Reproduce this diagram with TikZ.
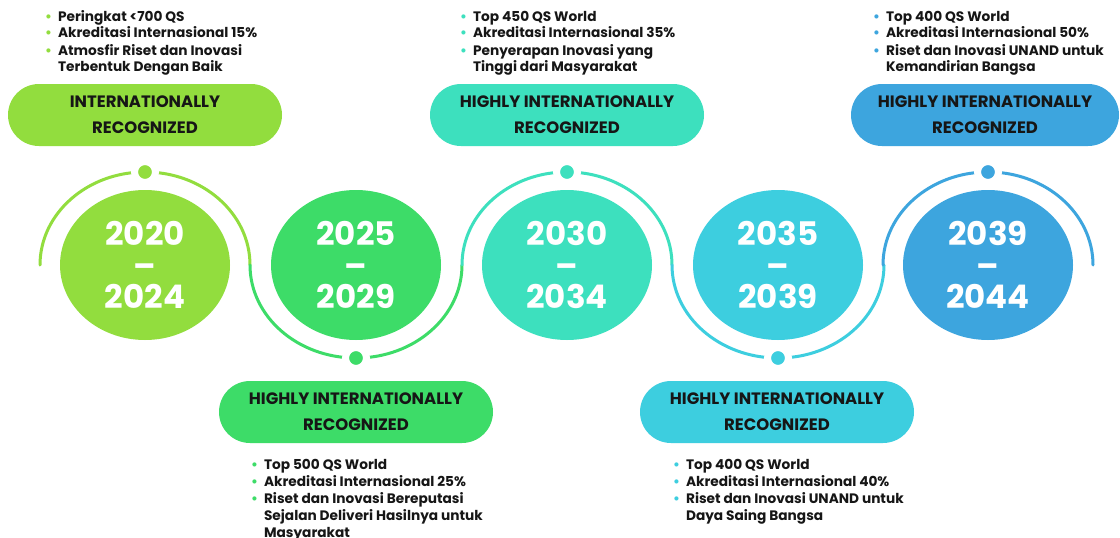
\documentclass[tikz,border=0pt]{standalone}
\usepackage{fontspec}
\setmainfont{Poppins}
\usetikzlibrary{shapes.geometric}
\definecolor{cA}{HTML}{92DD3E}
\definecolor{cB}{HTML}{3DDC68}
\definecolor{cC}{HTML}{3DE0BE}
\definecolor{cD}{HTML}{3DCEDF}
\definecolor{cE}{HTML}{3DA5DE}
\definecolor{ink}{HTML}{161616}
\newcommand{\mybul}[1]{{\color{#1}\textbullet}}
\tikzset{
  yearc/.style={ellipse, minimum width=170pt, minimum height=150pt, inner sep=0pt, fill=#1, text=white,
    font=\fontsize{32.5}{31.5}\selectfont\bfseries, align=center},
  pill/.style={rectangle, rounded corners=31pt, minimum width=274pt, minimum height=62pt, inner sep=0pt,
    fill=#1, text=ink, font=\fontsize{16.5}{26}\selectfont\bfseries, align=center},
  dotn/.style={circle, minimum size=21pt, inner sep=0pt, fill=#1, draw=white, line width=7pt},
  ring/.style={draw=#1, line width=3pt, line cap=round},
  blist/.style={anchor=base west, inner sep=0pt, font=\fontsize{13.7}{17}\selectfont\bfseries, text=ink}
}
\begin{document}
\begin{tikzpicture}[x=1pt,y=-1pt]
\useasboundingbox[fill=white] (0,0) rectangle (1120,538);
% year circles
\node[yearc=cA] (y1) at (145,265) {2020\\–\\2024};
\node[yearc=cB] (y2) at (356,265) {2025\\–\\2029};
\node[yearc=cC] (y3) at (567,265) {2030\\–\\2034};
\node[yearc=cD] (y4) at (778,265) {2035\\–\\2039};
\node[yearc=cE] (y5) at (988,265) {2039\\–\\2044};
% rings (wave)
\draw[ring=cA] (y1.center) ++(-105,0) arc[start angle=180, end angle=360, x radius=105, y radius=93];
\draw[ring=cB] (y2.center) ++(-106,0) arc[start angle=180, end angle=0, x radius=106, y radius=93];
\draw[ring=cC] (y3.center) ++(-105,0) arc[start angle=180, end angle=360, x radius=105, y radius=93];
\draw[ring=cD] (y4.center) ++(-106,0) arc[start angle=180, end angle=0, x radius=106, y radius=93];
\draw[ring=cE] (y5.center) ++(-105,0) arc[start angle=180, end angle=360, x radius=105, y radius=93];
% dots
\node[dotn=cA] (d1) at (145,172) {};
\node[dotn=cB] (d2) at (356,358) {};
\node[dotn=cC] (d3) at (567,172) {};
\node[dotn=cD] (d4) at (778,358) {};
\node[dotn=cE] (d5) at (988,172) {};
% pills
\node[pill=cA] (p1) at (145,115) {INTERNATIONALLY\\RECOGNIZED};
\node[pill=cB] (p2) at (356,412) {HIGHLY INTERNATIONALLY\\RECOGNIZED};
\node[pill=cC] (p3) at (567,115) {HIGHLY INTERNATIONALLY\\RECOGNIZED};
\node[pill=cD] (p4) at (777,412) {HIGHLY INTERNATIONALLY\\RECOGNIZED};
\node[pill=cE, minimum width=268pt] (p5) at (985,115) {HIGHLY INTERNATIONALLY\\RECOGNIZED};
% bullet lists
\node[blist] (t1) at (45,21) {\begin{tabular}[t]{@{}l@{\hspace{6pt}}l@{}}
\mybul{cA} & Peringkat <700 QS\\
\mybul{cA} & Akreditasi Internasional 15\%\\
\mybul{cA} & Atmosfir Riset dan Inovasi\\
 & Terbentuk Dengan Baik\end{tabular}};
\node[blist] (t3) at (460,21) {\begin{tabular}[t]{@{}l@{\hspace{6pt}}l@{}}
\mybul{cC} & Top 450 QS World\\
\mybul{cC} & Akreditasi Internasional 35\%\\
\mybul{cC} & Penyerapan Inovasi yang\\
 & Tinggi dari Masyarakat\end{tabular}};
\node[blist] (t5) at (873,21) {\begin{tabular}[t]{@{}l@{\hspace{6pt}}l@{}}
\mybul{cE} & Top 400 QS World\\
\mybul{cE} & Akreditasi Internasional 50\%\\
\mybul{cE} & Riset dan Inovasi UNAND untuk\\
 & Kemandirian Bangsa\end{tabular}};
\node[blist] (t2) at (251,469) {\begin{tabular}[t]{@{}l@{\hspace{6pt}}l@{}}
\mybul{cB} & Top 500 QS World\\
\mybul{cB} & Akreditasi Internasional 25\%\\
\mybul{cB} & Riset dan Inovasi Bereputasi\\
 & Sejalan Deliveri Hasilnya untuk\\
 & Masyarakat\end{tabular}};
\node[blist] (t4) at (673,469) {\begin{tabular}[t]{@{}l@{\hspace{6pt}}l@{}}
\mybul{cD} & Top 400 QS World\\
\mybul{cD} & Akreditasi Internasional 40\%\\
\mybul{cD} & Riset dan Inovasi UNAND untuk\\
 & Daya Saing Bangsa\end{tabular}};
\end{tikzpicture}
\end{document}
